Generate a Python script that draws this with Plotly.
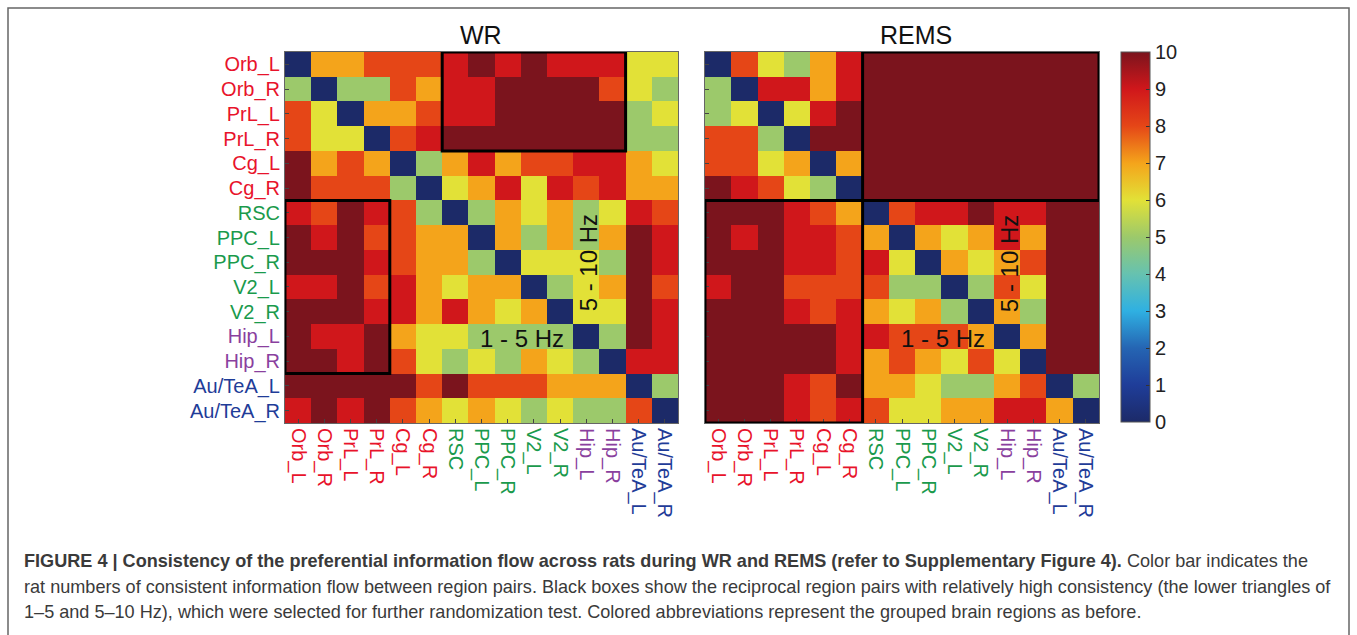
import plotly.graph_objects as go

W, H = 1357, 635

regions = ["Orb_L", "Orb_R", "PrL_L", "PrL_R", "Cg_L", "Cg_R", "RSC", "PPC_L", "PPC_R",
           "V2_L", "V2_R", "Hip_L", "Hip_R", "Au/TeA_L", "Au/TeA_R"]
region_colors = ["#e8132b"] * 6 + ["#1a9a4c"] * 5 + ["#8a3f9e"] * 2 + ["#1f3c98"] * 2

wr = [
    [0, 7, 7, 8, 8, 8, 9, 10, 9, 10, 9, 9, 9, 6, 6],
    [5, 0, 5, 5, 8, 7, 9, 9, 10, 10, 10, 10, 8, 6, 5],
    [8, 6, 0, 7, 7, 8, 9, 9, 10, 10, 10, 10, 10, 5, 6],
    [8, 6, 6, 0, 8, 9, 10, 10, 10, 10, 10, 10, 10, 5, 5],
    [10, 7, 8, 7, 0, 5, 7, 9, 7, 8, 8, 9, 9, 7, 6],
    [10, 8, 8, 8, 5, 0, 6, 7, 9, 6, 9, 8, 9, 7, 7],
    [9, 8, 10, 9, 8, 5, 0, 5, 7, 6, 7, 5, 6, 9, 8],
    [10, 9, 10, 8, 8, 7, 7, 0, 7, 5, 7, 5, 7, 10, 9],
    [10, 10, 10, 9, 8, 7, 7, 5, 0, 6, 6, 6, 5, 10, 9],
    [9, 9, 10, 8, 9, 7, 6, 7, 7, 0, 5, 6, 7, 10, 8],
    [10, 10, 10, 9, 9, 7, 9, 7, 6, 7, 0, 6, 6, 10, 9],
    [10, 9, 9, 10, 7, 6, 6, 5, 5, 5, 5, 0, 5, 10, 9],
    [10, 10, 9, 10, 8, 6, 5, 6, 5, 7, 6, 5, 0, 9, 9],
    [10, 10, 10, 10, 10, 8, 10, 8, 8, 8, 7, 7, 7, 0, 5],
    [9, 10, 9, 10, 8, 7, 6, 7, 6, 5, 6, 5, 5, 8, 0],
]

rems = [
    [0, 8, 6, 5, 7, 9, 10, 10, 10, 10, 10, 10, 10, 10, 10],
    [5, 0, 9, 9, 7, 9, 10, 10, 10, 10, 10, 10, 10, 10, 10],
    [5, 6, 0, 6, 9, 10, 10, 10, 10, 10, 10, 10, 10, 10, 10],
    [8, 8, 5, 0, 10, 10, 10, 10, 10, 10, 10, 10, 10, 10, 10],
    [8, 8, 6, 7, 0, 7, 10, 10, 10, 10, 10, 10, 10, 10, 10],
    [10, 9, 8, 6, 5, 0, 10, 10, 10, 10, 10, 10, 10, 10, 10],
    [10, 10, 10, 9, 8, 7, 0, 8, 9, 9, 10, 9, 9, 10, 10],
    [10, 9, 10, 9, 9, 8, 7, 0, 7, 6, 7, 9, 7, 10, 10],
    [10, 10, 10, 9, 9, 8, 9, 6, 0, 7, 6, 7, 8, 10, 10],
    [9, 10, 10, 8, 8, 8, 8, 5, 5, 0, 5, 8, 6, 10, 10],
    [10, 10, 10, 9, 8, 9, 7, 6, 7, 5, 0, 7, 5, 10, 10],
    [10, 10, 10, 10, 10, 9, 9, 8, 8, 8, 7, 0, 7, 10, 10],
    [10, 10, 10, 10, 10, 9, 7, 8, 7, 6, 8, 6, 0, 10, 10],
    [10, 10, 10, 9, 8, 10, 7, 7, 6, 5, 5, 7, 8, 0, 5],
    [10, 10, 10, 9, 8, 9, 8, 6, 6, 7, 7, 9, 9, 7, 0],
]

cbar_ticks = list(range(0, 11))

# boxes: (panel, col_start, col_end, row_start, row_end)
boxes = [("WR", 6, 12, 0, 3), ("WR", 0, 3, 6, 12),
         ("REMS", 6, 14, 0, 5), ("REMS", 0, 5, 6, 14)]

level_colors = ["#1c2a68", "#1f3d99", "#2565b3", "#2fb0e2", "#66c2b0", "#9cc96b",
                "#e2e137", "#f4a41b", "#e54617", "#d0171b", "#7b141d"]
colorscale = [[i / 10, c] for i, c in enumerate(level_colors)]

FONT = "'Liberation Sans', Arial, sans-serif"
idx = list(range(len(regions)))
ticktext = [f"<span style='color:{c}'>{r}</span>" for r, c in zip(regions, region_colors)]


def px_x(p):
    return p / W


def px_y(p):
    return 1 - p / H


fig = go.Figure()
fig.add_trace(go.Heatmap(z=wr, x=idx, y=idx, zmin=0, zmax=10, colorscale=colorscale,
                         showscale=False, xaxis="x", yaxis="y", hoverinfo="z"))
fig.add_trace(go.Heatmap(z=rems, x=idx, y=idx, zmin=0, zmax=10, colorscale=colorscale,
                         xaxis="x2", yaxis="y2", hoverinfo="z",
                         colorbar=dict(x=px_x(1121), xanchor="left", y=px_y(52), yanchor="top",
                                       xpad=0, ypad=0,
                                       lenmode="pixels", len=370, thicknessmode="pixels",
                                       thickness=29, outlinewidth=1, outlinecolor="#555",
                                       tickvals=cbar_ticks, ticks="inside", ticklen=4,
                                       tickcolor="#333",
                                       tickfont=dict(size=20, family=FONT, color="#222"))))

axis_common = dict(range=[-0.5, 14.5], tickvals=idx, showgrid=False, zeroline=False,
                   showline=True, mirror=True, linecolor="#666", linewidth=1,
                   ticks="inside", ticklen=4, tickcolor="#444")
yd = [px_y(423), px_y(52)]
fig.update_layout(
    width=W, height=H, margin=dict(l=0, r=0, t=0, b=0),
    paper_bgcolor="white", plot_bgcolor="white", showlegend=False,
    font=dict(family=FONT),
    xaxis=dict(domain=[px_x(285), px_x(678)], anchor="y", ticktext=ticktext, tickangle=90,
               tickfont=dict(size=20, family=FONT), **axis_common),
    yaxis=dict(domain=yd, anchor="x", ticktext=ticktext, autorange=False,
               tickfont=dict(size=20, family=FONT), **{**axis_common, "range": [14.5, -0.5]}),
    xaxis2=dict(domain=[px_x(705), px_x(1099)], anchor="y2", ticktext=ticktext, tickangle=90,
                tickfont=dict(size=20, family=FONT), **axis_common),
    yaxis2=dict(domain=yd, anchor="x2", showticklabels=False,
                **{**axis_common, "range": [14.5, -0.5]}),
)

shapes = []
for panel, c0, c1, r0, r1 in boxes:
    xr, yr = ("x", "y") if panel == "WR" else ("x2", "y2")
    shapes.append(dict(type="rect", xref=xr, yref=yr, x0=c0 - 0.5, x1=c1 + 0.5,
                       y0=r0 - 0.5, y1=r1 + 0.5, line=dict(color="black", width=3)))
shapes.append(dict(type="rect", xref="paper", yref="paper", x0=px_x(8), x1=px_x(1349),
                   y0=-0.05, y1=px_y(8), line=dict(color="#666", width=1.5), layer="below"))
fig.update_layout(shapes=shapes)

ann = []
ann.append(dict(text="WR", x=px_x(481), y=px_y(35), xref="paper", yref="paper",
                xanchor="center", yanchor="middle",
                showarrow=False, font=dict(size=25, color="#111", family=FONT)))
ann.append(dict(text="REMS", x=px_x(916), y=px_y(35), xref="paper", yref="paper",
                xanchor="center", yanchor="middle",
                showarrow=False, font=dict(size=25, color="#111", family=FONT)))
for xr, yr in (("x", "y"), ("x2", "y2")):
    ann.append(dict(text="1 - 5 Hz", x=8.55, y=11.08, xref=xr, yref=yr, showarrow=False,
                    xanchor="center", yanchor="middle",
                    font=dict(size=24, color="#111", family=FONT)))
    ann.append(dict(text="5 - 10 Hz", x=11.07, y=8.04, xref=xr, yref=yr, showarrow=False,
                    xanchor="center", yanchor="middle",
                    textangle=-90, font=dict(size=24, color="#111", family=FONT)))

cap_font = dict(size=18.1, color="#3a3a3a", family=FONT)
caption = [
    "<b>FIGURE 4 | Consistency of the preferential information flow across rats during WR and REMS "
    "(refer to Supplementary Figure 4).</b> Color bar indicates the",
    "rat numbers of consistent information flow between region pairs. Black boxes show the reciprocal "
    "region pairs with relatively high consistency (the lower triangles of",
    "1–5 and 5–10 Hz), which were selected for further randomization test. Colored abbreviations "
    "represent the grouped brain regions as before.",
]
for line, yp in zip(caption, [561, 587, 612]):
    ann.append(dict(text=line, x=px_x(22), y=px_y(yp), xref="paper", yref="paper",
                    xanchor="left", yanchor="middle", showarrow=False, font=cap_font))
fig.update_layout(annotations=ann)

fig.write_html("out.html")
